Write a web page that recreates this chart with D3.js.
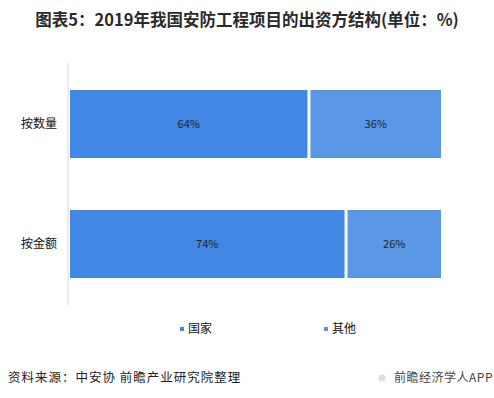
<!DOCTYPE html>
<html>
<head>
<meta charset="utf-8">
<script src="https://cdn.jsdelivr.net/npm/d3@7"></script>
<style>
  body { margin: 0; background: #fff; }
  svg { display: block; font-family: "Noto Sans CJK SC", "Microsoft YaHei", sans-serif; }
</style>
</head>
<body>
<svg id="chart" width="494" height="398"></svg>
<script>
// data
var categories = ["按数量", "按金额"];
var seriesNames = ["国家", "其他"];
var guojia = [64, 74];
var qita = [36, 26];
var colors = ["#4287e3", "#5a98e6"];

var svg = d3.select("#chart");
var W = 494, H = 398;

var x = d3.scaleLinear().domain([0, 100]).range([70, 441]);
var y = d3.scaleBand().domain(categories).range([63, 305]).paddingInner(0.4333).paddingOuter(0.225);

// title
svg.append("text")
    .attr("x", W / 2)
    .attr("y", 26)
    .attr("text-anchor", "middle")
    .style("font-size", "16.5px")
    .style("font-weight", "bold")
    .style("fill", "#2a2a2a")
    .text("图表5：2019年我国安防工程项目的出资方结构(单位：%)");

// stacked rows
var rows = categories.map(function (c, i) {
    return { cat: c, vals: [guojia[i], qita[i]] };
});

var gap = 3;
rows.forEach(function (r) {
    var start = 0;
    r.vals.forEach(function (v, k) {
        var x0 = x(start) + (k > 0 ? gap : 0);
        var x1 = x(start + v);
        svg.append("rect")
            .attr("x", x0)
            .attr("y", y(r.cat))
            .attr("width", x1 - x0)
            .attr("height", y.bandwidth())
            .attr("fill", colors[k]);
        svg.append("text")
            .attr("x", (x0 + x1) / 2)
            .attr("y", y(r.cat) + y.bandwidth() / 2)
            .attr("dy", "0.35em")
            .attr("text-anchor", "middle")
            .style("font-size", "11px")
            .style("fill", "#222")
            .text(v + "%");
        start += v;
    });
});

// y axis
var yAxis = svg.append("g")
    .attr("transform", "translate(68,0)")
    .call(d3.axisLeft(y).tickSize(0).tickPadding(11));
yAxis.select(".domain").attr("stroke", "#d9d9d9").attr("d", "M0,63V305");
yAxis.selectAll("text")
    .style("font-size", "12px")
    .style("fill", "#111")
    .style("font-family", "\"Noto Sans CJK SC\", sans-serif");

// legend
var legendX = [180, 324];
seriesNames.forEach(function (n, k) {
    var g = svg.append("g").attr("transform", "translate(" + legendX[k] + ",329)");
    g.append("rect").attr("x", 0).attr("y", -2).attr("width", 4).attr("height", 4).attr("fill", colors[k]);
    g.append("text").attr("x", 8).attr("dy", "0.35em")
        .style("font-size", "12px").style("fill", "#111").text(n);
});

// footer
svg.append("text")
    .attr("x", 8)
    .attr("y", 382)
    .style("font-size", "12.5px")
    .style("letter-spacing", "1px")
    .style("fill", "#222")
    .text("资料来源：中安协 前瞻产业研究院整理");

svg.append("circle").attr("cx", 382).attr("cy", 378).attr("r", 3.5).attr("fill", "#ddd");
svg.append("text")
    .attr("x", 493)
    .attr("y", 382)
    .attr("text-anchor", "end")
    .style("font-size", "12px")
    .style("letter-spacing", "0.5px")
    .style("fill", "#444")
    .text("前瞻经济学人APP");
</script>
</body>
</html>
